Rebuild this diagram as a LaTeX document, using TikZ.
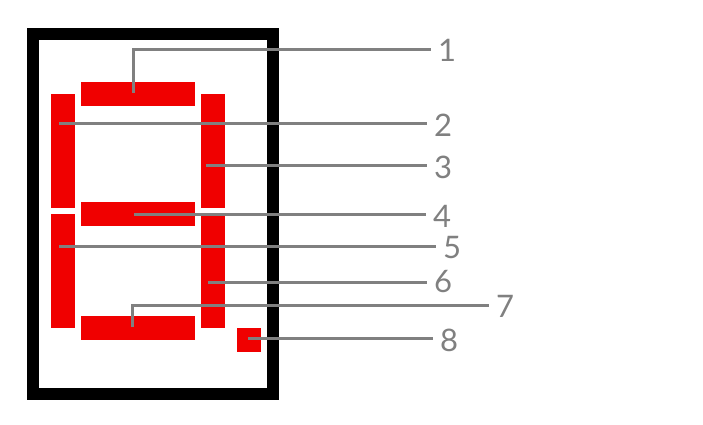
\documentclass[tikz,border=0pt]{standalone}
\usepackage{fontspec}
\setmainfont{Lato}
\definecolor{segred}{RGB}{240,0,0}
\definecolor{leadgray}{RGB}{128,128,128}
\tikzset{
  hseg/.style={fill=segred, inner sep=0, minimum width=114, minimum height=24},
  vseg/.style={fill=segred, inner sep=0, minimum width=24, minimum height=114},
  pinlabel/.style={text=leadgray, inner sep=0, font=\fontsize{31}{36}\selectfont},
  lead/.style={draw=leadgray, line width=3}
}
\begin{document}
\begin{tikzpicture}[x=1pt, y=-1pt]
\useasboundingbox (0,0) rectangle (703,425);
% housing
\draw[line width=12] (33,34) rectangle (273,394);
% segments
\node[hseg] (segtop) at (138,94) {};
\node[vseg] (segul) at (63,151) {};
\node[vseg] (segur) at (213,151) {};
\node[hseg] (segmid) at (138,214) {};
\node[vseg] (segll) at (63,271) {};
\node[vseg] (seglr) at (213,271) {};
\node[hseg] (segbot) at (138,328) {};
\node[fill=segred, inner sep=0, minimum size=24] (segdp) at (249,340) {};
% pin labels
\node[pinlabel] (l1) at (447,50) {1};
\node[pinlabel] (l2) at (443,125) {2};
\node[pinlabel] (l3) at (443,167) {3};
\node[pinlabel] (l4) at (442,216) {4};
\node[pinlabel] (l5) at (452,248) {5};
\node[pinlabel] (l6) at (443,282) {6};
\node[pinlabel] (l7) at (505,306) {7};
\node[pinlabel] (l8) at (449,340) {8};
% lead lines
\coordinate (p1) at (133,93);
\coordinate (p2) at (59,123);
\coordinate (p3) at (206,165);
\coordinate (p4) at (134,214);
\coordinate (p5) at (59,246);
\coordinate (p6) at (208,282);
\coordinate (p7) at (132,327);
\coordinate (p8) at (248,338);
\coordinate (k1) at (133,50);
\coordinate (k7) at (132,305);
\draw[lead, shorten >=7] (p1) -- (k1) -- (k1 -| l1.west);
\draw[lead, shorten >=7] (p2) -- (p2 -| l2.west);
\draw[lead, shorten >=7] (p3) -- (p3 -| l3.west);
\draw[lead, shorten >=7] (p4) -- (p4 -| l4.west);
\draw[lead, shorten >=7] (p5) -- (p5 -| l5.west);
\draw[lead, shorten >=7] (p6) -- (p6 -| l6.west);
\draw[lead, shorten >=7] (p7) -- (k7) -- (k7 -| l7.west);
\draw[lead, shorten >=7] (p8) -- (p8 -| l8.west);
\end{tikzpicture}
\end{document}
